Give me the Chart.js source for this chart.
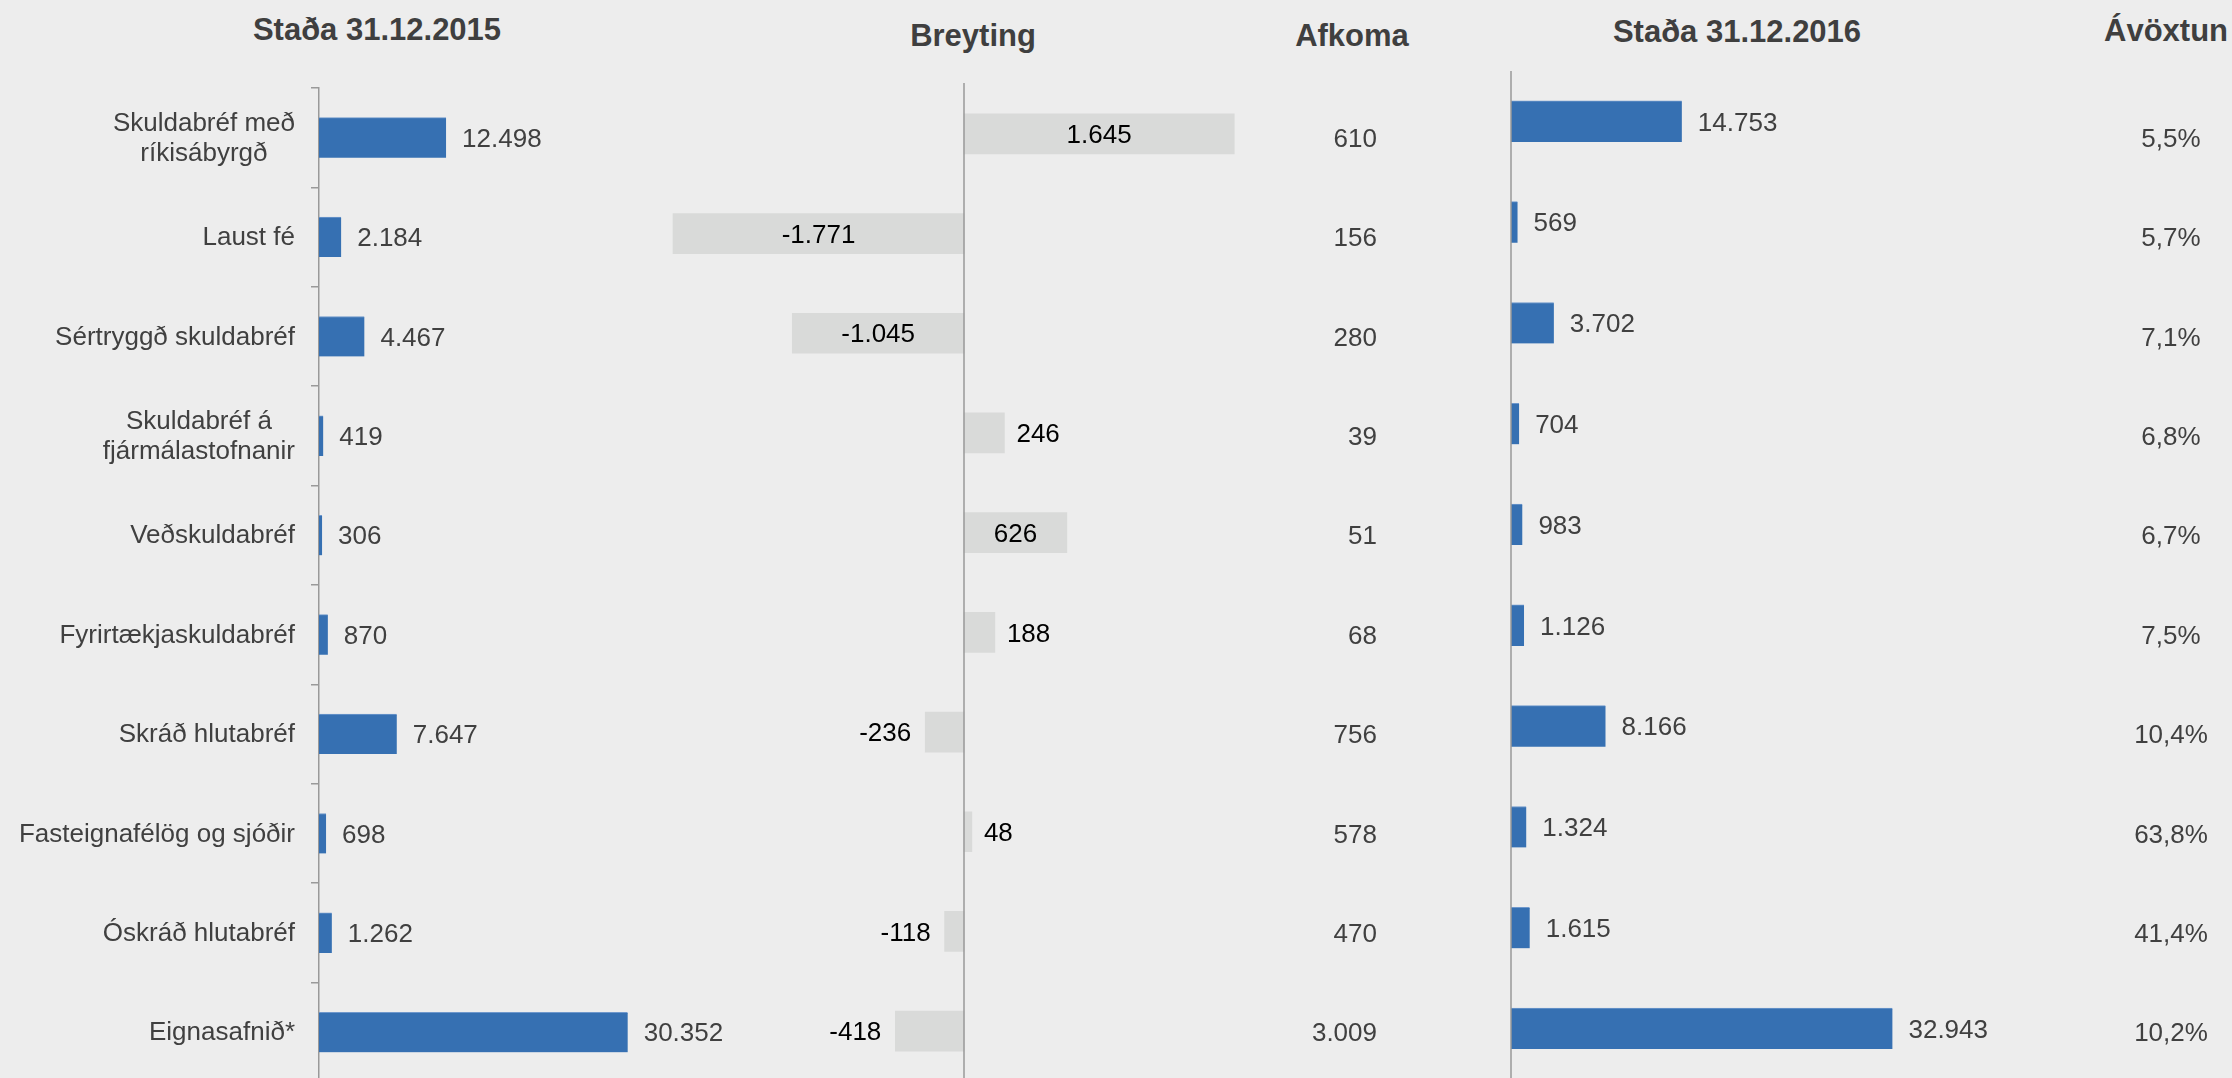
<!DOCTYPE html>
<html>
<head>
<meta charset="utf-8">
<script src="https://cdn.jsdelivr.net/npm/chart.js@4.4.1/dist/chart.umd.min.js"></script>
<style>
  html, body { margin: 0; padding: 0; background: #ededed; overflow: hidden; }
  body { width: 2232px; height: 1078px; position: relative; font-family: 'Liberation Sans', Arial, sans-serif; }
  canvas { position: absolute; left: 0; top: 0; }
  .head { position: absolute; font-weight: bold; font-size: 31px; color: #3f3f3f; transform: translate(-50%, -50%); white-space: nowrap; }
</style>
</head>
<body>
<div class="head" style="left:377px; top:30px;">Staða 31.12.2015</div>
<div class="head" style="left:973px; top:36px;">Breyting</div>
<div class="head" style="left:1352px; top:36px;">Afkoma</div>
<div class="head" style="left:1737px; top:32px;">Staða 31.12.2016</div>
<div class="head" style="left:2166px; top:31px;">Ávöxtun</div>

<canvas id="leftChart" width="2232" height="1100"></canvas>
<canvas id="changeChart" width="2232" height="1100"></canvas>
<canvas id="rightChart" width="2232" height="1100"></canvas>

<script>
// ---- data ----
const categories = [
    ['Skuldabréf með', 'ríkisábyrgð'],
    'Laust fé',
    'Sértryggð skuldabréf',
    ['Skuldabréf á', 'fjármálastofnanir'],
    'Veðskuldabréf',
    'Fyrirtækjaskuldabréf',
    'Skráð hlutabréf',
    'Fasteignafélög og sjóðir',
    'Óskráð hlutabréf',
    'Eignasafnið*'
];
const stada2015 = [12498, 2184, 4467, 419, 306, 870, 7647, 698, 1262, 30352];
const breyting = [1645, -1771, -1045, 246, 626, 188, -236, 48, -118, -418];
const afkoma = [610, 156, 280, 39, 51, 68, 756, 578, 470, 3009];
const stada2016 = [14753, 569, 3702, 704, 983, 1126, 8166, 1324, 1615, 32943];
const avoxtun = [5.5, 5.7, 7.1, 6.8, 6.7, 7.5, 10.4, 63.8, 41.4, 10.2];

const FONT = "'Liberation Sans', Arial, sans-serif";
const TEXT = '#404040';
const BLUE = '#3670b2';
const GREY = '#d9dad9';
const AXIS = '#999999';

function fmt(n) {
    const s = Math.abs(n).toString().replace(/\B(?=(\d{3})+(?!\d))/g, '.');
    return (n < 0 ? '-' : '') + s;
}
function pct(v) {
    return v.toFixed(1).replace('.', ',') + '%';
}

function axisLine(ctx, x, top, bottom) {
    ctx.save();
    ctx.strokeStyle = AXIS;
    ctx.lineWidth = 1.5;
    ctx.beginPath();
    ctx.moveTo(x, top);
    ctx.lineTo(x, bottom);
    ctx.stroke();
    ctx.restore();
}

// value labels at the end of blue bars
const endLabels = {
    id: 'endLabels',
    afterDatasetsDraw(chart) {
        const ctx = chart.ctx;
        const meta = chart.getDatasetMeta(0);
        const data = chart.data.datasets[0].data;
        ctx.save();
        ctx.font = '26px ' + FONT;
        ctx.fillStyle = TEXT;
        ctx.textAlign = 'left';
        ctx.textBaseline = 'middle';
        meta.data.forEach((bar, i) => {
            ctx.fillText(fmt(data[i]), bar.x + 16, bar.y + 2);
        });
        ctx.restore();
    }
};

// left chart: categories, plus the Afkoma and Ávöxtun text columns on the same rows
const leftExtras = {
    id: 'leftExtras',
    afterDraw(chart) {
        const ctx = chart.ctx;
        const y = chart.scales.y;
        ctx.save();
        ctx.font = '26px ' + FONT;
        ctx.fillStyle = TEXT;
        ctx.textBaseline = 'middle';
        categories.forEach((lab, i) => {
            const cy = y.getPixelForValue(i);
            const lines = Array.isArray(lab) ? lab : [lab];
            const w = Math.max(...lines.map(l => ctx.measureText(l).width));
            const lh = 30;
            ctx.textAlign = 'center';
            lines.forEach((l, k) => {
                const ly = cy + (k - (lines.length - 1) / 2) * lh + 1;
                ctx.fillText(l, 295 - w / 2, ly);
            });
            ctx.textAlign = 'right';
            ctx.fillText(fmt(afkoma[i]), 1377, cy + 2);
            ctx.textAlign = 'center';
            ctx.fillText(pct(avoxtun[i]), 2171, cy + 2);
        });
        ctx.restore();
    }
};

new Chart(document.getElementById('leftChart'), {
    type: 'bar',
    data: {
        labels: categories,
        datasets: [{
            data: stada2015,
            backgroundColor: BLUE,
            borderColor: '#6f98cc',
            borderWidth: { top: 1, right: 0, bottom: 0, left: 0 },
            borderSkipped: false,
            barThickness: 40
        }]
    },
    options: {
        indexAxis: 'y',
        responsive: false,
        animation: false,
        layout: { padding: { left: 0, top: 88, bottom: 18, right: 2232 - (319 + 34000 * 0.01017) } },
        plugins: { legend: { display: false }, tooltip: { enabled: false } },
        scales: {
            x: { display: false, min: 0, max: 34000 },
            y: {
                afterFit: (scale) => { scale.width = 319; },
                ticks: { display: false },
                grid: { display: true, drawOnChartArea: false, drawTicks: true, tickLength: 8, color: AXIS, lineWidth: 1.5, offset: true },
                border: { display: true, color: AXIS, width: 1.5 }
            }
        }
    },
    plugins: [endLabels, leftExtras]
});

// middle chart: change, grey bars around a zero line
const changeLabels = {
    id: 'changeLabels',
    afterDatasetsDraw(chart) {
        const ctx = chart.ctx;
        const x = chart.scales.x;
        const area = chart.chartArea;
        axisLine(ctx, x.getPixelForValue(0), area.top - 1, 1100);
        const meta = chart.getDatasetMeta(0);
        ctx.save();
        ctx.font = '26px ' + FONT;
        ctx.fillStyle = '#000000';
        ctx.textBaseline = 'middle';
        meta.data.forEach((bar, i) => {
            const v = breyting[i];
            const txt = fmt(v);
            const tw = ctx.measureText(txt).width;
            const len = Math.abs(bar.x - bar.base);
            if (len > tw + 20) {
                ctx.textAlign = 'center';
                ctx.fillText(txt, (bar.x + bar.base) / 2, bar.y + 2);
            } else if (v >= 0) {
                ctx.textAlign = 'left';
                ctx.fillText(txt, bar.x + 12, bar.y + 2);
            } else {
                ctx.textAlign = 'right';
                ctx.fillText(txt, bar.x - 14, bar.y + 2);
            }
        });
        ctx.restore();
    }
};

new Chart(document.getElementById('changeChart'), {
    type: 'bar',
    data: {
        labels: categories,
        datasets: [{
            data: breyting,
            backgroundColor: GREY,
            borderWidth: 0,
            barThickness: 40
        }]
    },
    options: {
        indexAxis: 'y',
        responsive: false,
        animation: false,
        layout: { padding: { left: 964 - 2000 * 0.1643, right: 2232 - (964 + 1800 * 0.1643), top: 84, bottom: 19 } },
        plugins: { legend: { display: false }, tooltip: { enabled: false } },
        scales: {
            x: { display: false, min: -2000, max: 1800 },
            y: { display: false }
        }
    },
    plugins: [changeLabels]
});

// right chart: position at year end 2016
const rightAxis = {
    id: 'rightAxis',
    afterDatasetsDraw(chart) {
        const area = chart.chartArea;
        axisLine(chart.ctx, chart.scales.x.getPixelForValue(0), area.top, 1100);
    }
};

new Chart(document.getElementById('rightChart'), {
    type: 'bar',
    data: {
        labels: categories,
        datasets: [{
            data: stada2016,
            backgroundColor: BLUE,
            borderColor: '#6f98cc',
            borderWidth: { top: 1, right: 0, bottom: 0, left: 0 },
            borderSkipped: false,
            barThickness: 41
        }]
    },
    options: {
        indexAxis: 'y',
        responsive: false,
        animation: false,
        layout: { padding: { left: 1511, right: 2232 - (1511 + 36000 * 0.01158), top: 71, bottom: 21 } },
        plugins: { legend: { display: false }, tooltip: { enabled: false } },
        scales: {
            x: { display: false, min: 0, max: 36000 },
            y: { display: false }
        }
    },
    plugins: [rightAxis, endLabels]
});
</script>
</body>
</html>
